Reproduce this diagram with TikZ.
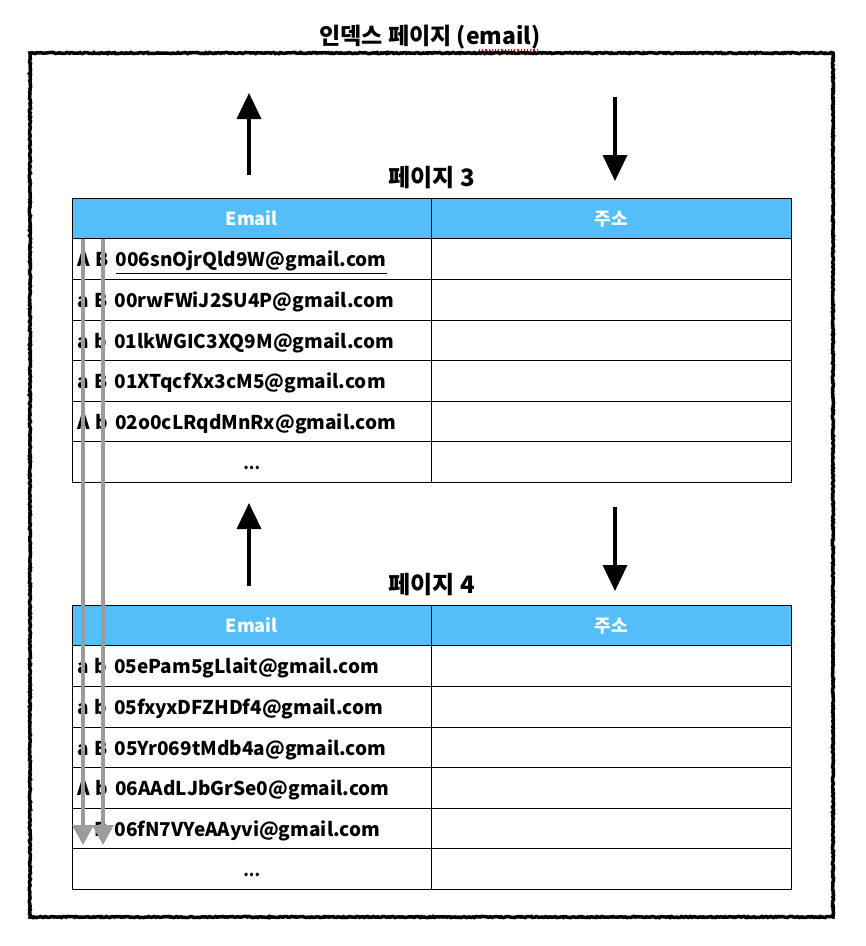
\documentclass[tikz,border=0pt]{standalone}
\usepackage{fontspec}
\setmainfont{Noto Sans CJK KR}
\usetikzlibrary{positioning,arrows.meta,decorations.pathmorphing}
\definecolor{headblue}{RGB}{84,190,250}
\definecolor{arrowgray}{RGB}{155,155,155}
\newcommand{\keyrow}[3]{#1\hspace{6pt}#2\hspace{7pt}#3}

\begin{document}
\begin{tikzpicture}[x=1pt,y=-1pt,every node/.append style={font=\bfseries},
    cell/.style={draw,outer sep=0,inner xsep=5pt,inner ysep=0,text width=349.5pt,
                 minimum height=40.6pt,text height=16pt,text depth=0pt,
                 font=\bfseries\fontsize{19}{19}\selectfont},
    headcell/.style={cell,fill=headblue,text=white,align=center,text height=14pt,
                 font=\bfseries\fontsize{18}{18}\selectfont},
    dotscell/.style={cell,align=center,font=\bfseries\fontsize{16}{16}\selectfont},
    rough/.style={line width=3.5pt,decorate,
                 decoration={random steps,segment length=1.5pt,amplitude=0.6pt}},
    bigarrow/.style={line width=3.5pt,-{Triangle[width=24pt,length=26pt]}},
    grayarrow/.style={arrowgray,line width=3.5pt,-{Triangle[width=21pt,length=20pt]}}]
    \useasboundingbox (0,0) rectangle (866,946);
    \node[font=\bfseries\fontsize{23}{23}\selectfont] (title) at (430,37) {인덱스 페이지 (email)};
    \draw[red,dotted,line width=1.2pt] (479,50) -- (537,50);
    \draw[rough] (30,53) rectangle (833,917);
    % page 3
    \node[font=\bfseries\fontsize{24}{24}\selectfont] (p3) at (432,178) {페이지 3};
    \node[headcell,anchor=north west] (h3e) at (72,198) {Email};
    \node[headcell,right=0pt of h3e] (h3a) {주소};
    \node[cell,below=0pt of h3e] (r3a) {\keyrow{A}{B}{\underline{006snOjrQld9W@gmail.com}}};
    \node[cell,below=0pt of r3a] (r3b) {\keyrow{a}{B}{00rwFWiJ2SU4P@gmail.com}};
    \node[cell,below=0pt of r3b] (r3c) {\keyrow{a}{b}{01lkWGIC3XQ9M@gmail.com}};
    \node[cell,below=0pt of r3c] (r3d) {\keyrow{a}{B}{01XTqcfXx3cM5@gmail.com}};
    \node[cell,below=0pt of r3d] (r3e) {\keyrow{A}{b}{02o0cLRqdMnRx@gmail.com}};
    \node[dotscell,below=0pt of r3e] (r3f) {...};
    \node[cell,below=0pt of h3a] (a3a) {};
    \node[cell,below=0pt of a3a] (a3b) {};
    \node[cell,below=0pt of a3b] (a3c) {};
    \node[cell,below=0pt of a3c] (a3d) {};
    \node[cell,below=0pt of a3d] (a3e) {};
    \node[cell,below=0pt of a3e] (a3f) {};
    % page 4
    \node[font=\bfseries\fontsize{24}{24}\selectfont] (p4) at (432,585) {페이지 4};
    \node[headcell,anchor=north west] (h4e) at (72,605) {Email};
    \node[headcell,right=0pt of h4e] (h4a) {주소};
    \node[cell,below=0pt of h4e] (r4a) {\keyrow{a}{b}{05ePam5gLlait@gmail.com}};
    \node[cell,below=0pt of r4a] (r4b) {\keyrow{a}{b}{05fxyxDFZHDf4@gmail.com}};
    \node[cell,below=0pt of r4b] (r4c) {\keyrow{a}{B}{05Yr069tMdb4a@gmail.com}};
    \node[cell,below=0pt of r4c] (r4d) {\keyrow{A}{b}{06AAdLJbGrSe0@gmail.com}};
    \node[cell,below=0pt of r4d] (r4e) {\keyrow{a}{B}{06fN7VYeAAyvi@gmail.com}};
    \node[dotscell,below=0pt of r4e] (r4f) {...};
    \node[cell,below=0pt of h4a] (a4a) {};
    \node[cell,below=0pt of a4a] (a4b) {};
    \node[cell,below=0pt of a4b] (a4c) {};
    \node[cell,below=0pt of a4c] (a4d) {};
    \node[cell,below=0pt of a4d] (a4e) {};
    \node[cell,below=0pt of a4e] (a4f) {};
    % arrows
    \coordinate (up3s) at (249,175);
    \coordinate (up3e) at (249,93);
    \coordinate (dn3s) at (615,97);
    \coordinate (dn3e) at (615,181);
    \coordinate (up4s) at (249,586);
    \coordinate (up4e) at (249,503);
    \coordinate (dn4s) at (615,507);
    \coordinate (dn4e) at (615,591);
    \draw[bigarrow] (up3s) -- (up3e);
    \draw[bigarrow] (dn3s) -- (dn3e);
    \draw[bigarrow] (up4s) -- (up4e);
    \draw[bigarrow] (dn4s) -- (dn4e);
    \coordinate (g1s) at (83,239);
    \coordinate (g1e) at (83,845);
    \coordinate (g2s) at (103,239);
    \coordinate (g2e) at (103,845);
    \draw[grayarrow] (g1s) -- (g1e);
    \draw[grayarrow] (g2s) -- (g2e);
\end{tikzpicture}
\end{document}
